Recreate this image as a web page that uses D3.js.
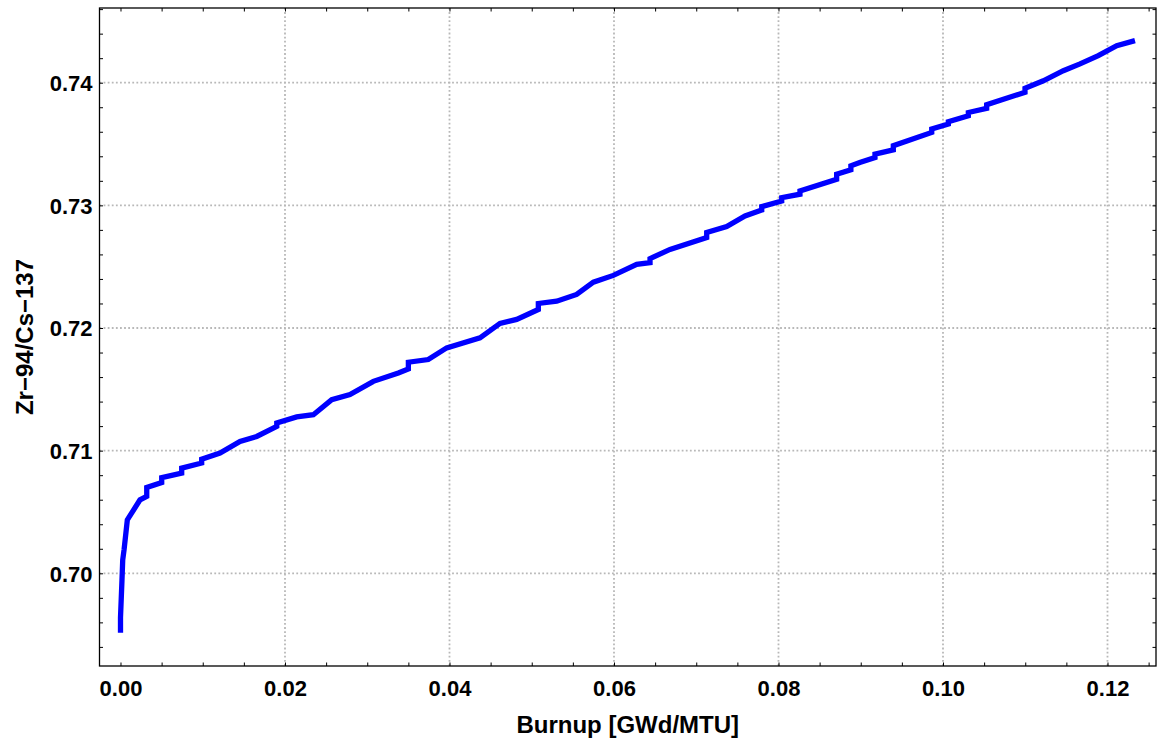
<!DOCTYPE html>
<html>
<head>
<meta charset="utf-8">
<script src="https://cdn.jsdelivr.net/npm/d3@7/dist/d3.min.js"></script>
<style>
  html, body { margin: 0; padding: 0; background: #fff; }
  svg { display: block; }
  text { font-family: "Liberation Sans", Arial, sans-serif; font-weight: bold; fill: #000; }
</style>
</head>
<body>
<svg id="chart" width="1157" height="741"></svg>
<script>
// Burnup (GWd/MTU) and Zr-94/Cs-137 ratio along the irradiation history
const burnup = [
  0.00000, 0.00000, 0.00018, 0.00027, 0.00043, 0.00083, 0.00237, 0.00319, 0.00319,
  0.00501, 0.00501, 0.00744, 0.00744, 0.00987, 0.00987, 0.01210, 0.01453, 0.01656,
  0.01900, 0.01900, 0.02142, 0.02345, 0.02568, 0.02790, 0.03074, 0.03378, 0.03500,
  0.03500, 0.03742, 0.03966, 0.04371, 0.04614, 0.04817, 0.05080, 0.05080, 0.05303,
  0.05546, 0.05749, 0.05992, 0.06276, 0.06438, 0.06438, 0.06681, 0.07127, 0.07127,
  0.07370, 0.07593, 0.07796, 0.07796, 0.08039, 0.08039, 0.08261, 0.08261, 0.08707,
  0.08707, 0.08880, 0.08880, 0.08988, 0.09173, 0.09173, 0.09396, 0.09396, 0.09863,
  0.09863, 0.10065, 0.10065, 0.10308, 0.10308, 0.10531, 0.10531, 0.10997, 0.10997,
  0.11220, 0.11463, 0.11666, 0.11888, 0.12112, 0.12334
];
const ratio = [
  0.69515, 0.69640, 0.69945, 0.70109, 0.70190, 0.70435, 0.70599, 0.70628, 0.70700,
  0.70740, 0.70780, 0.70817, 0.70858, 0.70899, 0.70931, 0.70980, 0.71075, 0.71116,
  0.71198, 0.71225, 0.71275, 0.71293, 0.71416, 0.71457, 0.71565, 0.71634, 0.71667,
  0.71721, 0.71743, 0.71838, 0.71920, 0.72037, 0.72070, 0.72151, 0.72200, 0.72219,
  0.72274, 0.72374, 0.72429, 0.72519, 0.72533, 0.72566, 0.72641, 0.72737, 0.72778,
  0.72827, 0.72913, 0.72962, 0.72990, 0.73036, 0.73063, 0.73091, 0.73118, 0.73213,
  0.73254, 0.73290, 0.73322, 0.73350, 0.73390, 0.73417, 0.73453, 0.73486, 0.73595,
  0.73622, 0.73663, 0.73682, 0.73730, 0.73757, 0.73791, 0.73820, 0.73922, 0.73955,
  0.74016, 0.74098, 0.74153, 0.74221, 0.74302, 0.74343
];

// Axis ticks
const xMajorTicks = [0.00, 0.02, 0.04, 0.06, 0.08, 0.10, 0.12];
const xMinorTicks = [0.005, 0.01, 0.015, 0.025, 0.03, 0.035, 0.045, 0.05, 0.055,
                     0.065, 0.07, 0.075, 0.085, 0.09, 0.095, 0.105, 0.11, 0.115, 0.125];
const yMajorTicks = [0.70, 0.71, 0.72, 0.73, 0.74];
const yMinorTicks = [0.694, 0.696, 0.698, 0.702, 0.704, 0.706, 0.708, 0.712, 0.714,
                     0.716, 0.718, 0.722, 0.724, 0.726, 0.728, 0.732, 0.734, 0.736,
                     0.738, 0.742, 0.744, 0.746];
const xGridTicks = [0.02, 0.04, 0.06, 0.08, 0.10, 0.12];
const yGridTicks = yMajorTicks;

const xLabel = "Burnup [GWd/MTU]";
const yLabel = "Zr\u221294/Cs\u2212137";

const plot = { left: 99.5, right: 1156, top: 8, bottom: 666 };

const svg = d3.select("#chart");

const x = d3.scaleLinear().domain([-0.002553, 0.125897]).range([plot.left, plot.right]);
const y = d3.scaleLinear().domain([0.692442, 0.746091]).range([plot.bottom, plot.top]);

// Dotted grid
const grid = svg.append("g").attr("class", "grid")
  .attr("stroke", "#b8b8b8").attr("stroke-width", 1.8).attr("stroke-dasharray", "1.8,2.3");
grid.selectAll("line.gx").data(xGridTicks).join("line").attr("class", "gx")
  .attr("x1", d => x(d)).attr("x2", d => x(d))
  .attr("y1", plot.top).attr("y2", plot.bottom);
grid.selectAll("line.gy").data(yGridTicks).join("line").attr("class", "gy")
  .attr("x1", plot.left).attr("x2", plot.right)
  .attr("y1", d => y(d)).attr("y2", d => y(d));

// Axes with inward ticks on all four sides
const tickLen = 3.5;
function styleAxis(g) {
  g.select(".domain").remove();
  g.selectAll(".tick line").attr("stroke", "#000").attr("stroke-width", 1);
}
const fmt = d3.format(".2f");

svg.append("g").attr("transform", `translate(0,${plot.bottom})`)
  .call(d3.axisBottom(x).tickValues(xMajorTicks.concat(xMinorTicks))
    .tickSize(-tickLen).tickSizeOuter(0)
    .tickFormat(d => xMajorTicks.includes(d) ? fmt(d) : ""))
  .call(styleAxis)
  .call(g => g.selectAll(".tick text")
    .attr("y", 14).attr("dy", "0.71em")
    .style("font-size", "22px").style("font-family", "'Liberation Sans', Arial, sans-serif")
    .style("font-weight", "bold").attr("fill", "#000"));

svg.append("g").attr("transform", `translate(0,${plot.top})`)
  .call(d3.axisTop(x).tickValues(xMajorTicks.concat(xMinorTicks))
    .tickSize(-tickLen).tickSizeOuter(0).tickFormat(""))
  .call(styleAxis);

svg.append("g").attr("transform", `translate(${plot.left},0)`)
  .call(d3.axisLeft(y).tickValues(yMajorTicks.concat(yMinorTicks))
    .tickSize(-tickLen).tickSizeOuter(0)
    .tickFormat(d => yMajorTicks.some(v => Math.abs(v - d) < 1e-9) ? fmt(d) : ""))
  .call(styleAxis)
  .call(g => g.selectAll(".tick text")
    .attr("x", -7).attr("dy", "0.36em")
    .style("font-size", "22px").style("font-family", "'Liberation Sans', Arial, sans-serif")
    .style("font-weight", "bold").attr("fill", "#000"));

svg.append("g").attr("transform", `translate(${plot.right},0)`)
  .call(d3.axisRight(y).tickValues(yMajorTicks.concat(yMinorTicks))
    .tickSize(-tickLen).tickSizeOuter(0).tickFormat(""))
  .call(styleAxis);

// Frame
svg.append("rect")
  .attr("x", plot.left).attr("y", plot.top)
  .attr("width", plot.right - plot.left).attr("height", plot.bottom - plot.top)
  .attr("fill", "none").attr("stroke", "#000").attr("stroke-width", 1.3);

// Ratio curve
const pts = burnup.map((b, i) => [b, ratio[i]]);
svg.append("path")
  .datum(pts)
  .attr("fill", "none")
  .attr("stroke", "#0000ff")
  .attr("stroke-width", 5.3)
  .attr("stroke-linejoin", "miter")
  .attr("stroke-linecap", "butt")
  .attr("d", d3.line().x(d => x(d[0])).y(d => y(d[1])));

// Axis titles
svg.append("text")
  .attr("x", (plot.left + plot.right) / 2).attr("y", 733)
  .attr("text-anchor", "middle")
  .style("font-size", "24px")
  .text(xLabel);

svg.append("text")
  .attr("transform", `translate(33,${(plot.top + plot.bottom) / 2}) rotate(-90)`)
  .attr("text-anchor", "middle")
  .style("font-size", "24px")
  .text(yLabel);
</script>
</body>
</html>
